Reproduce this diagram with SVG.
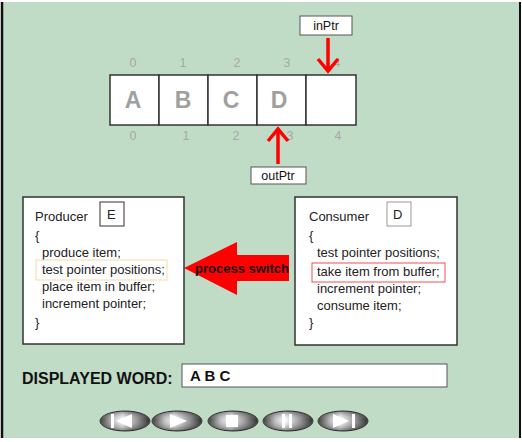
<svg xmlns="http://www.w3.org/2000/svg" width="522" height="442" viewBox="0 0 522 442">
<style>
text{font-family:"Liberation Sans",Arial,sans-serif}
.idx{font-size:12.5px;fill:#a8a8a8;text-anchor:middle}
.cell{fill:#fff;stroke:#333;stroke-width:1.5}
.let{font-size:23px;font-weight:bold;fill:#a0a0a0;text-anchor:middle}
.lbl{fill:#fff;stroke:#555;stroke-width:1}
.lt{font-size:12.5px;fill:#111;text-anchor:middle}
.code{font-size:13px;fill:#222}
.box{fill:#fff;stroke:#333;stroke-width:1.5}
.ptr{stroke:#f00;stroke-width:3.5;fill:none;stroke-linecap:butt}
.btn{fill:url(#btng);stroke:#333;stroke-width:1}
.ico{fill:#fff}
</style>
<defs>
<linearGradient id="btng" x1="0" y1="0" x2="1" y2="0">
<stop offset="0" stop-color="#222"/>
<stop offset="0.25" stop-color="#bbb"/>
<stop offset="0.45" stop-color="#fff"/>
<stop offset="0.75" stop-color="#888"/>
<stop offset="1" stop-color="#111"/>
</linearGradient>
<linearGradient id="btnv" x1="0" y1="0" x2="0" y2="1">
<stop offset="0" stop-color="#000" stop-opacity="0.45"/>
<stop offset="0.45" stop-color="#fff" stop-opacity="0.1"/>
<stop offset="1" stop-color="#000" stop-opacity="0.5"/>
</linearGradient>
</defs>
<rect x="0" y="0" width="522" height="442" fill="#fff"/>
<rect x="2" y="2" width="518" height="436" fill="#c1dcc6"/>
<line x1="2" y1="2" x2="2" y2="438" stroke="#111" stroke-width="2.5"/>
<line x1="520" y1="2" x2="520" y2="438" stroke="#111" stroke-width="2"/>

<g id="buffer">
<rect class="cell" x="110" y="75" width="49" height="50"/>
<rect class="cell" x="159" y="75" width="49" height="50"/>
<rect class="cell" x="208" y="75" width="49" height="50"/>
<rect class="cell" x="257" y="75" width="49" height="50"/>
<rect class="cell" x="306" y="75" width="50" height="50"/>
<text class="let" x="133" y="108">A</text>
<text class="let" x="183" y="108">B</text>
<text class="let" x="231" y="108">C</text>
<text class="let" x="279" y="108">D</text>
<text class="idx" x="133" y="67">0</text>
<text class="idx" x="183" y="67">1</text>
<text class="idx" x="237" y="67">2</text>
<text class="idx" x="287" y="67">3</text>
<text class="idx" x="337" y="67">4</text>
<text class="idx" x="133" y="140">0</text>
<text class="idx" x="186" y="140">1</text>
<text class="idx" x="236" y="140">2</text>
<text class="idx" x="290" y="140">3</text>
<text class="idx" x="338" y="140">4</text>
</g>

<g id="inPtr">
<rect class="lbl" x="300" y="16" width="52" height="19"/>
<text class="lt" x="326" y="30">inPtr</text>
</g>
<g id="outPtr">
<rect class="lbl" x="251" y="167" width="55" height="17"/>
<text class="lt" x="278" y="180">outPtr</text>
</g>

<g id="connectors">
<path class="ptr" d="M328,38 V71"/>
<path class="ptr" d="M318,59 L328,71 L338,59"/>
<path class="ptr" d="M278,164 V129"/>
<path class="ptr" d="M268,141 L278,129 L288,141"/>
<path d="M184,268 L237,242 L237,255 L289,255 L289,281 L237,281 L237,295 Z" fill="#f00"/>
<text x="195" y="273" font-size="13" font-weight="bold" fill="#111">process switch</text>
</g>

<g id="producer">
<rect class="box" x="23" y="197" width="161" height="147"/>
<text class="code" x="35" y="221">Producer</text>
<rect x="100" y="202" width="24" height="24" fill="#fff" stroke="#333" stroke-width="1"/>
<text class="code" x="107" y="219">E</text>
<text class="code" x="35" y="240">{</text>
<text class="code" x="42" y="257">produce item;</text>
<rect x="36" y="260" width="131" height="20" fill="none" stroke="#f3dba6" stroke-width="1"/>
<text class="code" x="42" y="274">test pointer positions;</text>
<text class="code" x="42" y="291">place item in buffer;</text>
<text class="code" x="42" y="308">increment pointer;</text>
<text class="code" x="35" y="327">}</text>
</g>

<g id="consumer">
<rect class="box" x="295" y="197" width="162" height="148"/>
<text class="code" x="309" y="221">Consumer</text>
<rect x="387" y="202" width="24" height="24" fill="#fff" stroke="#999" stroke-width="1"/>
<text class="code" x="393" y="219">D</text>
<text class="code" x="309" y="240">{</text>
<text class="code" x="317" y="257">test pointer positions;</text>
<rect x="312" y="263" width="133" height="19" fill="none" stroke="#f05050" stroke-width="1"/>
<text class="code" x="317" y="276">take item from buffer;</text>
<text class="code" x="317" y="293">increment pointer;</text>
<text class="code" x="317" y="310">consume item;</text>
<text class="code" x="309" y="327">}</text>
</g>

<g id="displayed">
<text x="22" y="384" font-size="16" font-weight="bold" fill="#111">DISPLAYED WORD:</text>
<rect x="182" y="364" width="265" height="23" fill="#fff" stroke="#555" stroke-width="1"/>
<text x="190" y="381" font-size="15" font-weight="bold" fill="#111">A B C</text>
</g>

<g id="buttons">
<g id="btn-first">
<ellipse class="btn" cx="125" cy="421" rx="25" ry="10"/>
<ellipse cx="125" cy="421" rx="25" ry="10" fill="url(#btnv)"/>
<rect class="ico" x="111" y="414" width="3" height="14"/>
<path class="ico" d="M116,421 L132,414 L132,428 Z"/>
</g>
<g id="btn-play">
<ellipse class="btn" cx="177" cy="421" rx="25" ry="10"/>
<ellipse cx="177" cy="421" rx="25" ry="10" fill="url(#btnv)"/>
<path class="ico" d="M170,414 L187,421 L170,428 Z"/>
</g>
<g id="btn-stop">
<ellipse class="btn" cx="233" cy="421" rx="25" ry="10"/>
<ellipse cx="233" cy="421" rx="25" ry="10" fill="url(#btnv)"/>
<rect class="ico" x="226" y="415" width="12" height="12"/>
</g>
<g id="btn-pause">
<ellipse class="btn" cx="288" cy="421" rx="25" ry="10"/>
<ellipse cx="288" cy="421" rx="25" ry="10" fill="url(#btnv)"/>
<rect class="ico" x="282" y="414" width="3" height="14"/>
<rect class="ico" x="289" y="414" width="3" height="14"/>
</g>
<g id="btn-last">
<ellipse class="btn" cx="343" cy="421" rx="25" ry="10"/>
<ellipse cx="343" cy="421" rx="25" ry="10" fill="url(#btnv)"/>
<path class="ico" d="M333,414 L349,421 L333,428 Z"/>
<rect class="ico" x="352" y="414" width="3" height="14"/>
</g>
</g>
</svg>
